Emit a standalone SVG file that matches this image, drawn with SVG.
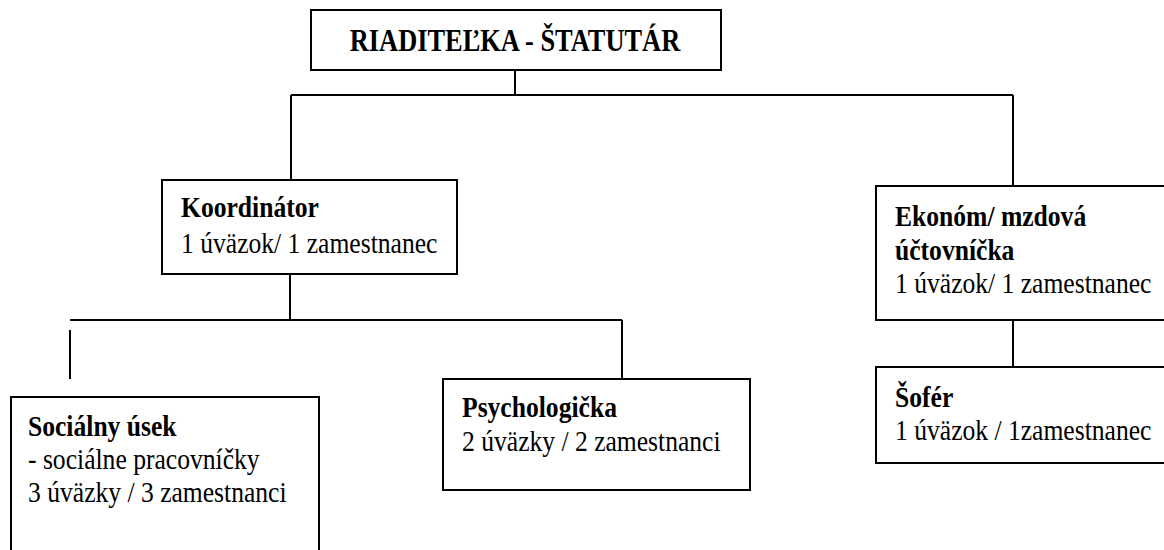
<svg xmlns="http://www.w3.org/2000/svg" width="1164" height="550" viewBox="0 0 1164 550">
<style>
.box{fill:#fff;stroke:#000;stroke-width:2}
.ln{fill:none;stroke:#000;stroke-width:2}
text{font-family:"Liberation Serif","Times New Roman",serif;font-size:25.6px;fill:#000}
.b{font-weight:bold}
.t{font-size:26.4px}
</style>
<rect width="1164" height="550" fill="#fff"/>
<g id="connectors">
<path class="ln" d="M515,70 V95 M291,95 H1013 M291,95 V180 M1013,95 V186 M290,274 V320 M70,320 H622 M622,320 V379 M70,330 V379 M1013,320 V367"/>
</g>
<g id="node-riaditelka">
<rect class="box" x="311" y="10" width="410" height="60"/>
<text class="b t" text-anchor="middle" transform="translate(515,51) scale(1,1.22)">RIADITEĽKA - ŠTATUTÁR</text>
</g>
<g id="node-koordinator">
<rect class="box" x="162" y="180" width="295" height="94"/>
<text class="b" transform="translate(181,217) scale(1,1.13)">Koordinátor</text>
<text transform="translate(181,253) scale(1,1.13)">1 úväzok/ 1 zamestnanec</text>
</g>
<g id="node-ekonom">
<rect class="box" x="876" y="186" width="320" height="134"/>
<text class="b" transform="translate(895,226) scale(1,1.13)">Ekonóm/ mzdová</text>
<text class="b" transform="translate(895,260) scale(1,1.13)">účtovníčka</text>
<text transform="translate(895,293) scale(1,1.13)">1 úväzok/ 1 zamestnanec</text>
</g>
<g id="node-sofer">
<rect class="box" x="876" y="367" width="320" height="96"/>
<text class="b" transform="translate(895,407) scale(1,1.13)">Šofér</text>
<text transform="translate(895,440) scale(1,1.13)">1 úväzok / 1zamestnanec</text>
</g>
<g id="node-socialny">
<rect class="box" x="11" y="397" width="308" height="180"/>
<text class="b" transform="translate(28,436) scale(1,1.13)">Sociálny úsek</text>
<text transform="translate(28,469) scale(1,1.13)">- sociálne pracovníčky</text>
<text transform="translate(28,502) scale(1,1.13)">3 úväzky / 3 zamestnanci</text>
</g>
<g id="node-psychologicka">
<rect class="box" x="443" y="379" width="307" height="111"/>
<text class="b" transform="translate(462,417) scale(1,1.13)">Psychologička</text>
<text transform="translate(462,451) scale(1,1.13)">2 úväzky / 2 zamestnanci</text>
</g>
</svg>
